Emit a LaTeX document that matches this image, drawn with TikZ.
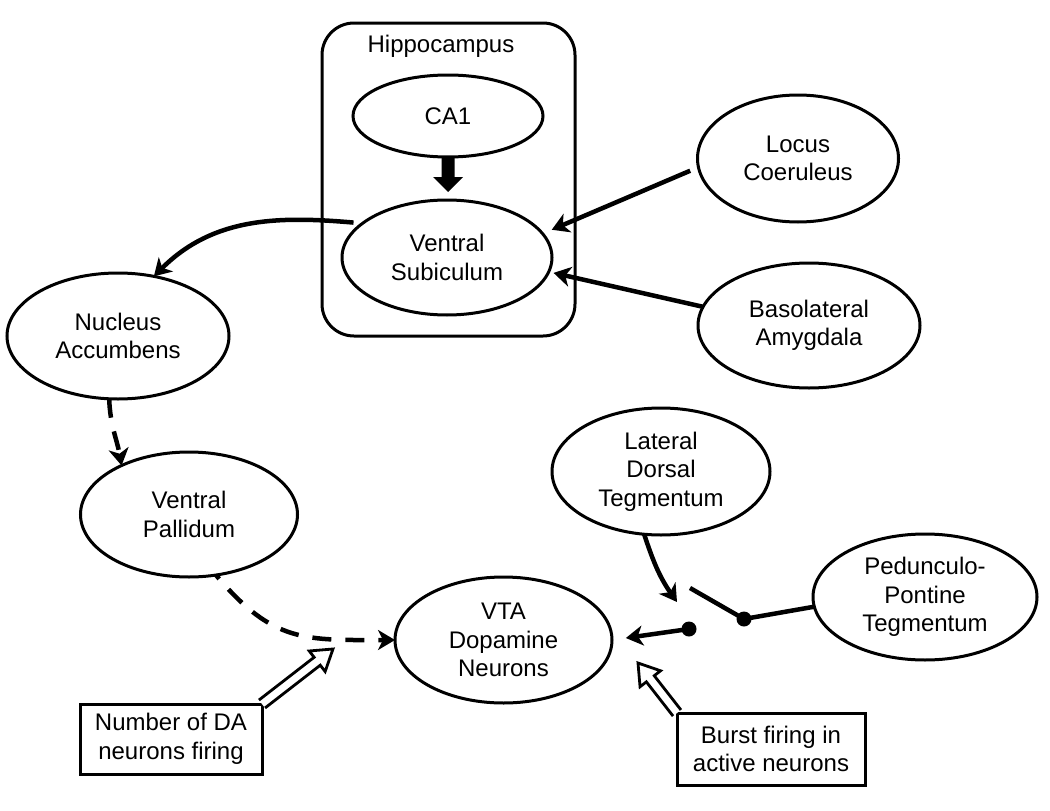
\documentclass[tikz,border=0pt]{standalone}
\usepackage{fontspec}
\setmainfont{Liberation Sans}
\usetikzlibrary{arrows.meta,shapes.geometric,calc}
\begin{document}
\begin{tikzpicture}[x=1pt,y=1pt,
  every node/.style={font=\fontsize{24}{28.5}\selectfont, align=center},
  region/.style={draw, ellipse, line width=3pt, inner sep=0pt, outer sep=0pt},
  note/.style={draw, rectangle, line width=3pt, inner sep=0pt, outer sep=0pt},
  conn/.style={line width=4.5pt, -{Stealth[length=17pt,width=20pt,inset=5pt]}},
  dconn/.style={conn, dash pattern=on 19pt off 14pt},
  plainline/.style={line width=4.5pt},
  blob/.style={circle, fill, inner sep=0pt, minimum size=15pt},
  hollow/.style={line width=2.8pt, line join=miter, fill=white}
]
\useasboundingbox (0,0) rectangle (1050,-811);
\fill[white] (0,0) rectangle (1050,-811);

% hippocampus container
\node[draw, rectangle, rounded corners=32pt, line width=3pt, minimum width=253pt, minimum height=313pt, inner sep=0pt] (hip) at (448.5,-179.5) {};
\node[anchor=base] (hiptxt) at (441,-52) {Hippocampus};

% regions
\node[region, minimum width=190pt, minimum height=82pt] (ca1) at (448,-116) {CA1};
\node[region, minimum width=210pt, minimum height=115pt] (vs) at (447,-257.5) {Ventral\\Subiculum};
\node[region, minimum width=201pt, minimum height=127pt] (lc) at (798,-158.5) {Locus\\Coeruleus};
\node[region, minimum width=222pt, minimum height=125pt] (bla) at (809,-325.5) {Basolateral\\Amygdala};
\node[region, minimum width=222pt, minimum height=126pt] (nac) at (118,-336) {Nucleus\\Accumbens};
\node[region, minimum width=217pt, minimum height=125pt] (vp) at (189,-514.5) {Ventral\\Pallidum};
\node[region, minimum width=218pt, minimum height=127pt] (ldt) at (661,-471.5) {Lateral\\Dorsal\\Tegmentum};
\node[region, minimum width=217pt, minimum height=126pt] (vta) at (503.5,-640) {VTA\\Dopamine\\Neurons};
\node[region, minimum width=224pt, minimum height=126pt] (ppt) at (925,-597) {Pedunculo-\\Pontine\\Tegmentum};

% text boxes
\node[note, minimum width=182pt, minimum height=70pt] (nb) at (171,-739) {Number of DA\\neurons firing};
\node[note, minimum width=188pt, minimum height=72pt] (bf) at (771,-749) {Burst firing in\\active neurons};

% free ends
\coordinate (jn1) at (677,-602);
\coordinate (jn2) at (690,-588);
\coordinate (t1) at (333,-649);
\coordinate (t2) at (638,-663);

% CA1 -> VS block arrow
\fill[shift={(ca1.south)}] (-6.5,0) -- (-6.5,-20) -- (-15,-20) -- (0,-35) -- (15,-20) -- (6.5,-20) -- (6.5,0) -- cycle;

% inputs to VS
\draw[conn, shorten <=9pt, shorten >=10pt] (lc.185) -- (vs.14);
\draw[conn, shorten >=5pt] (bla.170) -- (vs.-8);

% VS -> NAc
\draw[conn, shorten <=9pt] (vs.158) to[out=175, in=45] (nac.59);

% NAc -> VP (dashed)
\draw[dconn] (nac.262) to[out=-88, in=100] (vp.144);

% VP -> VTA (dashed)
\draw[dconn, dash phase=14pt] (vp.294.5) to[out=-50, in=180, looseness=1.2] (vta.west);

% LDT -> junction
\draw[conn] (ldt.255) to[out=-72, in=125] (jn1);

% PPT -> dot -> junction
\node[blob] (d2) at (744,-619) {};
\node[blob] (d1) at (689,-629) {};
\draw[plainline] (ppt.185) -- (d2.center) -- (jn2);
\draw[conn, shorten >=14pt] (d1.center) -- (vta.east);

% open arrows from the note boxes
\coordinate (h1) at ($(t1)!20pt!(nb.north east)$);
\draw[hollow] ($(nb.north east)!5pt!90:(t1)$) -- ($(h1)!5pt!90:(t1)$) -- ($(h1)!13pt!90:(t1)$) -- (t1) -- ($(h1)!13pt!-90:(t1)$) -- ($(h1)!5pt!-90:(t1)$) -- ($(nb.north east)!5pt!-90:(t1)$);
\coordinate (h2) at ($(t2)!20pt!(bf.north west)$);
\draw[hollow] ($(bf.north west)!5pt!90:(t2)$) -- ($(h2)!5pt!90:(t2)$) -- ($(h2)!13pt!90:(t2)$) -- (t2) -- ($(h2)!13pt!-90:(t2)$) -- ($(h2)!5pt!-90:(t2)$) -- ($(bf.north west)!5pt!-90:(t2)$);
\end{tikzpicture}
\end{document}
